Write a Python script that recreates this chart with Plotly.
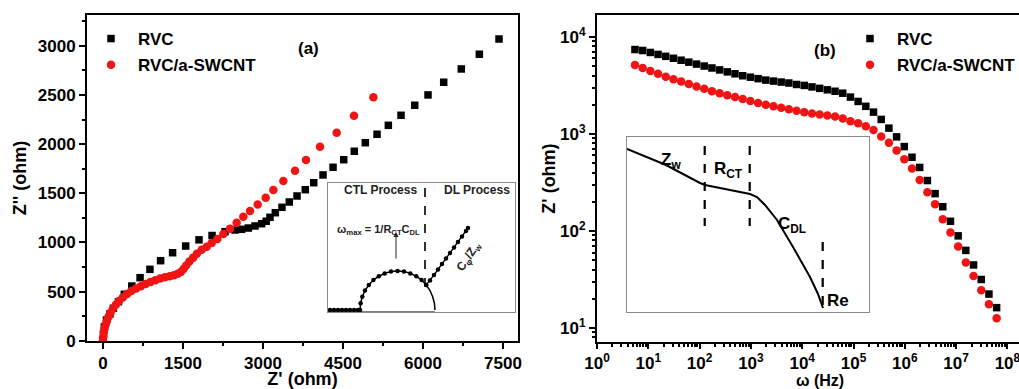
import plotly.graph_objects as go

W, H = 1019, 389

# ---------------- Panel (a): Nyquist plot ----------------
rvc_zre = [0, 10, 25, 65, 130, 195, 290, 400, 540, 695, 880, 1080, 1305, 1550, 1800,
           2045, 2288, 2475, 2600, 2725, 2850, 2975, 3060, 3131, 3231, 3356, 3493, 3638,
           3793, 3951, 4125, 4313, 4513, 4712, 4918, 5138, 5350, 5588, 5845, 6094, 6388,
           6718, 7056, 7425]
rvc_zim = [10, 70, 140, 210, 272, 330, 397, 472, 556, 641, 726, 814, 895, 963, 1026,
           1070, 1109, 1126, 1133, 1146, 1167, 1190, 1215, 1255, 1302, 1357, 1411, 1472,
           1536, 1607, 1686, 1764, 1841, 1927, 2014, 2100, 2191, 2293, 2395, 2500, 2629,
           2764, 2914, 3069]

cnt_zre = [0, 5, 15, 30, 50, 75, 105, 140, 185, 240, 300, 370, 450, 530, 620, 710, 800,
           890, 980, 1070, 1160, 1250, 1330, 1400, 1460, 1510, 1560, 1620, 1690, 1760,
           1850, 1944, 2038, 2144, 2256, 2381, 2506, 2631, 2756, 2900, 3050, 3194, 3381,
           3600, 3806, 4069, 4381, 4706, 5069]
cnt_zim = [0, 40, 85, 125, 165, 205, 245, 285, 325, 365, 405, 440, 475, 505, 530, 555,
           578, 598, 615, 632, 645, 655, 665, 680, 700, 730, 765, 805, 845, 885, 925, 955,
           995, 1035, 1085, 1140, 1200, 1261, 1319, 1385, 1455, 1533, 1625, 1729, 1838,
           1974, 2116, 2289, 2476]

xa_ticks = [0, 1500, 3000, 4500, 6000, 7500]
ya_ticks = [0, 500, 1000, 1500, 2000, 2500, 3000]

# ---------------- Panel (b): Z' vs frequency ----------------
log_freq = [0.74, 0.89, 1.04, 1.19, 1.34, 1.49, 1.64, 1.79, 1.94, 2.09, 2.24, 2.39, 2.54,
            2.69, 2.84, 2.99, 3.14, 3.29, 3.44, 3.59, 3.74, 3.89, 4.04, 4.19, 4.34, 4.49,
            4.64, 4.79, 4.94, 5.09, 5.24, 5.39, 5.54, 5.69, 5.84, 5.99, 6.14, 6.29, 6.44,
            6.59, 6.74, 6.89, 7.04, 7.19, 7.34, 7.49, 7.64, 7.79]
rvc_logz = [3.87, 3.86, 3.84, 3.82, 3.80, 3.78, 3.76, 3.74, 3.72, 3.70, 3.68, 3.66, 3.64,
            3.62, 3.60, 3.585, 3.57, 3.555, 3.545, 3.535, 3.525, 3.51, 3.50, 3.485, 3.47,
            3.455, 3.44, 3.42, 3.38, 3.335, 3.285, 3.225, 3.15, 3.06, 2.97, 2.87, 2.76,
            2.655, 2.52, 2.385, 2.25, 2.10, 1.95, 1.80, 1.65, 1.50, 1.35, 1.21]
cnt_logz = [3.71, 3.68, 3.65, 3.62, 3.59, 3.565, 3.54, 3.515, 3.49, 3.465, 3.44, 3.42,
            3.40, 3.38, 3.36, 3.34, 3.32, 3.30, 3.285, 3.27, 3.255, 3.24, 3.225, 3.21,
            3.20, 3.19, 3.18, 3.16, 3.13, 3.11, 3.08, 3.04, 2.975, 2.91, 2.83, 2.74, 2.645,
            2.525, 2.40, 2.275, 2.12, 1.985, 1.84, 1.675, 1.535, 1.39, 1.245, 1.10]
xb_ticks = [1, 10, 100, 1e3, 1e4, 1e5, 1e6, 1e7, 1e8]
xb_labels = ["10<sup>%d</sup>" % i for i in range(9)]
yb_ticks = [10, 100, 1e3, 1e4]
yb_labels = ["10<sup>%d</sup>" % i for i in range(1, 5)]

# ---------------- Inset (a) schematic ----------------
ia_flat_x = [0, 4, 8, 12, 16, 20, 24, 28, 32]
ia_flat_y = [2, 2, 2, 2, 2, 2, 2, 2, 2]
ia_arc_x = [32, 32.6, 34.3, 37.0, 40.8, 45.4, 50.8, 56.7, 63.0, 69.5, 76.0, 82.3, 88.3,
            93.6, 98.2, 102.0, 104.7, 106.4, 107]
ia_arc_y = [2, 8.8, 15.3, 21.5, 27.1, 31.9, 35.8, 38.6, 40.4, 41, 40.4, 38.6, 35.8,
            31.9, 27.1, 21.5, 15.3, 8.8, 2]
ia_dot_x = [2, 6, 10, 14, 18, 22, 26, 30, 32, 32.6, 34.3, 37.0, 40.8, 45.4, 50.8, 56.7,
            63.0, 69.5, 76.0, 82.3, 88.3, 93.6, 98.2]
ia_dot_y = [2, 2, 2, 2, 2, 2, 2, 2, 2, 8.8, 15.3, 21.5, 27.1, 31.9, 35.8, 38.6, 40.4, 41,
            40.4, 38.6, 35.8, 31.9, 27.1]
ia_diag_x = [98.2, 102, 106, 110, 114, 118, 122, 126, 130, 134, 138, 140]
ia_diag_y = [27.1, 31.5, 37, 42.5, 48, 53.5, 59, 64.5, 70, 75.5, 81, 84]

# ---------------- Inset (b) schematic ----------------
ib_x = [0, 39, 73, 78, 123, 130, 138, 150, 166, 183, 191, 196]
ib_y = [163, 147, 129, 127, 118, 115, 107, 92, 65, 35, 18, 4]

BLACK = "#000000"
RED = "#f01414"
FONT = "Arial, Liberation Sans, sans-serif"

fig = go.Figure()

# main traces
fig.add_trace(go.Scatter(x=rvc_zre, y=rvc_zim, mode="markers", name="RVC",
                         marker=dict(symbol="square", size=7.5, color=BLACK),
                         xaxis="x", yaxis="y", legend="legend", legendgroup="a1"))
fig.add_trace(go.Scatter(x=cnt_zre, y=cnt_zim, mode="markers", name="RVC/a-SWCNT",
                         marker=dict(symbol="circle", size=8.5, color=RED),
                         xaxis="x", yaxis="y", legend="legend", legendgroup="a2"))
fig.add_trace(go.Scatter(x=[10 ** v for v in log_freq], y=[10 ** v for v in rvc_logz],
                         mode="markers", name="RVC",
                         marker=dict(symbol="square", size=7.5, color=BLACK),
                         xaxis="x2", yaxis="y2", legend="legend2", legendgroup="b1"))
fig.add_trace(go.Scatter(x=[10 ** v for v in log_freq], y=[10 ** v for v in cnt_logz],
                         mode="markers", name="RVC/a-SWCNT",
                         marker=dict(symbol="circle", size=8.5, color=RED),
                         xaxis="x2", yaxis="y2", legend="legend2", legendgroup="b2"))

# inset (a)
fig.add_trace(go.Scatter(x=ia_flat_x, y=ia_flat_y, mode="lines", line=dict(color=BLACK, width=1.3),
                         xaxis="x3", yaxis="y3", showlegend=False, hoverinfo="skip"))
fig.add_trace(go.Scatter(x=ia_arc_x, y=ia_arc_y, mode="lines", line=dict(color=BLACK, width=1.5),
                         xaxis="x3", yaxis="y3", showlegend=False, hoverinfo="skip"))
fig.add_trace(go.Scatter(x=ia_dot_x, y=ia_dot_y, mode="markers", marker=dict(color=BLACK, size=4.5),
                         xaxis="x3", yaxis="y3", showlegend=False, hoverinfo="skip"))
fig.add_trace(go.Scatter(x=ia_diag_x, y=ia_diag_y, mode="lines+markers",
                         line=dict(color=BLACK, width=1.3), marker=dict(color=BLACK, size=4.5),
                         xaxis="x3", yaxis="y3", showlegend=False, hoverinfo="skip"))
fig.add_trace(go.Scatter(x=[97, 97], y=[124, 27], mode="lines",
                         line=dict(color=BLACK, width=1.6, dash="dash"),
                         xaxis="x3", yaxis="y3", showlegend=False, hoverinfo="skip"))
fig.add_trace(go.Scatter(x=[0, 107, None, 0, 0, None, 32, 32, None, 107, 107],
                         y=[0, 0, None, 0, -3, None, 0, -3, None, 0, -3], mode="lines",
                         line=dict(color=BLACK, width=1.2), cliponaxis=False,
                         xaxis="x3", yaxis="y3", showlegend=False, hoverinfo="skip"))

# inset (b)
fig.add_trace(go.Scatter(x=ib_x, y=ib_y, mode="lines", line=dict(color=BLACK, width=2),
                         xaxis="x4", yaxis="y4", showlegend=False, hoverinfo="skip"))
fig.add_trace(go.Scatter(x=[77.7, 77.7, None, 122.7, 122.7, None, 195.7, 195.7],
                         y=[166, 86, None, 166, 86, None, 70, -11], mode="lines",
                         line=dict(color=BLACK, width=2.2, dash="dash"), cliponaxis=False,
                         xaxis="x4", yaxis="y4", showlegend=False, hoverinfo="skip"))

bold = dict(family=FONT, size=17, color=BLACK, weight="bold")
title_font = dict(family=FONT, size=18, color=BLACK, weight="bold")

common = dict(showline=True, linecolor=BLACK, linewidth=2, mirror=True, showgrid=False,
              zeroline=False, ticks="outside", tickwidth=2, tickcolor=BLACK,
              tickfont=bold, automargin=False, ticklabeloverflow="allow")
inset = dict(showline=True, linecolor="#8a8a8a", linewidth=1.3, mirror=True,
             showticklabels=False, ticks="", showgrid=False, zeroline=False, automargin=False)

fig.update_layout(
    width=W, height=H, margin=dict(l=0, r=0, t=0, b=0, autoexpand=False),
    paper_bgcolor="white", plot_bgcolor="rgba(0,0,0,0)",
    font=dict(family=FONT, color=BLACK),
    xaxis=dict(domain=[87 / W, 518 / W], range=[-300, 7781], tickmode="array", ticklen=6,
               tickvals=xa_ticks, minor=dict(dtick=750, tick0=0, ticks="outside", ticklen=3,
                                             tickwidth=2, tickcolor=BLACK),
               title=dict(text="Z' (ohm)", font=title_font, standoff=2), anchor="y", **common),
    yaxis=dict(domain=[1 - 341 / H, 1 - 15 / H], range=[-3, 3313], tickmode="array", ticklen=6,
               tickvals=ya_ticks, minor=dict(dtick=250, tick0=0, ticks="outside", ticklen=3,
                                             tickwidth=2, tickcolor=BLACK),
               title=dict(text="Z'' (ohm)", font=title_font, standoff=6), anchor="x", **common),
    xaxis2=dict(type="log", domain=[597 / W, 1.0], range=[0, 8.226], tickmode="array",
                ticklen=5, tickvals=xb_ticks, ticktext=xb_labels,
                minor=dict(dtick="D1", ticks="outside", ticklen=3, tickwidth=1.5, tickcolor=BLACK),
                anchor="y2", **common),
    yaxis2=dict(type="log", domain=[1 - 342 / H, 1 - 15 / H], range=[0.856, 4.226],
                tickmode="array", ticklen=6, tickvals=yb_ticks, ticktext=yb_labels,
                minor=dict(dtick="D1", ticks="outside", ticklen=3, tickwidth=1.5, tickcolor=BLACK),
                title=dict(text="Z' (ohm)", font=title_font, standoff=0), anchor="x2", **common),
    xaxis3=dict(domain=[328 / W, 515 / W], range=[0, 187], anchor="y3", **inset),
    yaxis3=dict(domain=[1 - 312 / H, 1 - 183 / H], range=[0, 129], anchor="x3", **inset),
    xaxis4=dict(domain=[627 / W, 869 / W], range=[0, 242], anchor="y4", **inset),
    yaxis4=dict(domain=[1 - 312 / H, 1 - 137 / H], range=[0, 175], anchor="x4", **inset),
    legend=dict(x=84 / W, y=1 - 21 / H, xanchor="left", yanchor="top", bgcolor="rgba(0,0,0,0)",
                font=bold, itemwidth=44, traceorder="grouped", tracegroupgap=1),
    legend2=dict(x=843 / W, y=1 - 21 / H, xanchor="left", yanchor="top", bgcolor="rgba(0,0,0,0)",
                 font=bold, itemwidth=44, traceorder="grouped", tracegroupgap=1),
)

small = dict(family=FONT, size=12, color="#222222", weight="bold")
mid = dict(family=FONT, size=13, color=BLACK, weight="bold")
big = dict(family=FONT, size=17, color=BLACK, weight="bold")
ann = [
    dict(text="(a)", x=308 / W, y=1 - 37 / H, xref="paper", yref="paper", font=big),
    dict(text="(b)", x=825 / W, y=1 - 39 / H, xref="paper", yref="paper", font=big),
    dict(text="ω (Hz)", x=820 / W, y=0, xref="paper", yref="paper", yanchor="bottom",
         yshift=-1, borderpad=0, font=dict(family=FONT, size=16, color=BLACK, weight="bold")),
    # inset a
    dict(text="CTL Process", x=52, y=122, xref="x3", yref="y3", font=small),
    dict(text="DL Process", x=149, y=122, xref="x3", yref="y3", font=small),
    dict(text="ω<sub>max</sub> = 1/R<sub>CT</sub>C<sub>DL</sub>", x=50, y=82, xref="x3",
         yref="y3", font=dict(family=FONT, size=11, color="#222222", weight="bold")),
    dict(text="", x=68, y=80, ax=68, ay=52, xref="x3", yref="y3", axref="x3", ayref="y3",
         showarrow=True, arrowhead=2, arrowsize=1, arrowwidth=1, arrowcolor="#222222"),
    dict(text="Z''", x=-10, y=62, xref="x3", yref="y3", textangle=-90, font=small),
    dict(text="Re", x=12, y=-11, xref="x3", yref="y3", font=mid),
    dict(text="R<sub>CT</sub>", x=69, y=-11, xref="x3", yref="y3", font=mid),
    dict(text="Z'", x=110, y=-11, xref="x3", yref="y3", font=mid),
    dict(text="C<sub>φ</sub>/Z<sub>w</sub>", x=141, y=55, xref="x3", yref="y3", textangle=-56,
         font=small),
    # inset b
    dict(text="Z<sub>w</sub>", x=44, y=151, xref="x4", yref="y4", font=big),
    dict(text="R<sub>CT</sub>", x=101, y=142, xref="x4", yref="y4", font=big),
    dict(text="C<sub>DL</sub>", x=165, y=87, xref="x4", yref="y4", font=big),
    dict(text="Re", x=211, y=12, xref="x4", yref="y4", font=big),
    dict(text="Z'", x=-17, y=84, xref="x4", yref="y4", textangle=-90, font=big),
    dict(text="ω", x=121, y=-13, xref="x4", yref="y4",
         font=dict(family="Times New Roman, Liberation Serif, serif", size=17, color=BLACK)),
]
for a in ann:
    a.setdefault("showarrow", False)
    a.setdefault("xanchor", "center")
fig.update_layout(annotations=ann)

fig.write_html("out.html")
